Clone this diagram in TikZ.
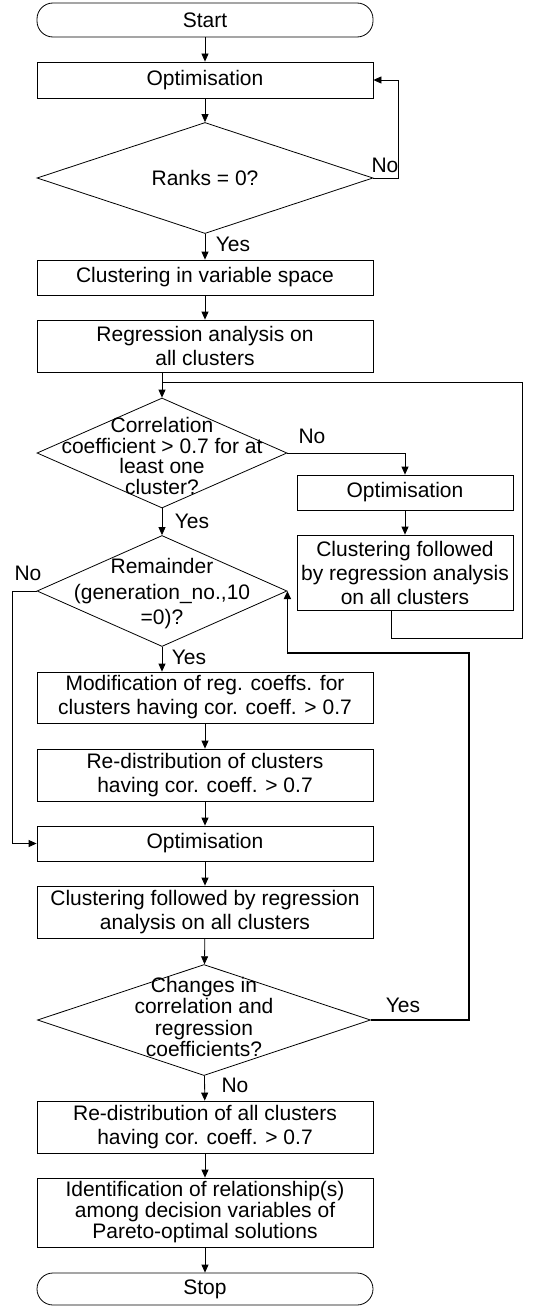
\documentclass[tikz,border=0pt]{standalone}
\usepackage{fontspec}
\setmainfont{Liberation Sans}
\usetikzlibrary{shapes.geometric,arrows.meta,calc}
\tikzset{
  proc/.style={draw, line width=0.8pt, minimum width=336pt, inner sep=0pt, align=center, font=\fontsize{21}{24}\selectfont},
  term/.style={proc, rounded corners=16pt},
  decide/.style={draw, diamond, line width=0.8pt, inner sep=0pt},
  dtext/.style={align=center, inner sep=0pt, font=\fontsize{21}{20.5}\selectfont},
  lbl/.style={inner sep=0pt, font=\fontsize{21}{24}\selectfont},
  flow/.style={line width=0.8pt, -{Triangle[length=8pt,width=7pt]}},
  plain/.style={line width=0.8pt},
}
\begin{document}
\begin{tikzpicture}[x=1pt,y=-1pt]
	\useasboundingbox (0,0) rectangle (558,1306);
	% main column
	\node [term, minimum height=34pt] (start) at (205,20) {Start};
	\node [proc, minimum height=36pt] (opt1) at (205,80) {Optimisation};
	\node [decide, minimum width=336pt, minimum height=111pt] (rank) at (205,178) {};
	\node [dtext] (rankT) at (rank) {Ranks = 0?};
	\node [proc, minimum height=35pt] (clusvar) at (205,277.5) {Clustering in variable space};
	\node [proc, minimum height=52pt] (regr) at (205,346) {Regression analysis on\\all clusters};
	\node [decide, minimum width=250pt, minimum height=110pt] (corr) at (162,453) {};
	\node [dtext] (corrT) at (162,456) {Correlation\\coefficient > 0.7 for at\\least one\\cluster?};
	\node [decide, minimum width=250pt, minimum height=111pt] (rem) at (162,591) {};
	\node [dtext, font=\fontsize{21}{25.5}\selectfont] (remT) at (162,594) {Remainder\\(generation\_no.,10\\=0)?};
	\node [proc, minimum height=51pt] (modif) at (205,697.5) {Modification of reg. coeffs. for\\clusters having cor. coeff. > 0.7};
	\node [proc, minimum height=52pt] (redist) at (205,775) {Re-distribution of clusters\\having cor. coeff. > 0.7};
	\node [proc, minimum height=35pt] (opt3) at (205,843.5) {Optimisation};
	\node [proc, minimum height=52pt] (clus3) at (205,912) {Clustering followed by regression\\analysis on all clusters};
	\node [decide, minimum width=333pt, minimum height=111pt] (chg) at (204,1020) {};
	\node [dtext, font=\fontsize{21}{21.5}\selectfont] (chgT) at (204,1017) {Changes in\\correlation and\\regression\\coefficients?};
	\node [proc, minimum height=52pt] (redist2) at (205,1127) {Re-distribution of all clusters\\having cor. coeff. > 0.7};
	\node [proc, minimum height=69pt, font=\fontsize{21}{21}\selectfont] (ident) at (205,1212.5) {Identification of relationship(s)\\among decision variables of\\Pareto-optimal solutions};
	\node [term, minimum height=32pt] (stop) at (205,1289) {Stop};
	% right column
	\node [proc, minimum width=216pt, minimum height=35pt] (opt2) at (405,492.5) {Optimisation};
	\node [proc, minimum width=216pt, minimum height=75pt] (clus2) at (405,572.5) {Clustering followed\\by regression analysis\\on all clusters};
	% labels
	\node [lbl] (noA) at (385,165) {No};
	\node [lbl] (yesA) at (233,244) {Yes};
	\node [lbl] (noB) at (312,436) {No};
	\node [lbl] (yesB) at (192,521) {Yes};
	\node [lbl] (noC) at (28,573) {No};
	\node [lbl] (yesC) at (189,657) {Yes};
	\node [lbl] (yesD) at (403,1005) {Yes};
	\node [lbl] (noD) at (235,1085) {No};
	% connectors
	\coordinate (join) at (162,382);
	\coordinate (loopTR) at (522,382);
	\coordinate (back) at (469,653);
	\draw [flow] (start) -- (opt1);
	\draw [flow] (opt1) -- (rank);
	\draw [flow] (rank.east) -- ++(25,0) |- (opt1.east);
	\draw [flow] (rank) -- (clusvar);
	\draw [flow] (clusvar) -- (regr);
	\draw [flow] (regr.south -| corr.north) -- (corr.north);
	\draw [flow] (corr.east) -| (opt2.north);
	\draw [flow] (opt2) -- (clus2);
	\draw [plain] ($(clus2.south)+(-14,0)$) -- ++(0,28) -| (loopTR) -- (join);
	\draw [flow] (corr) -- (rem);
	\draw [flow] (rem.south) -- (rem.south |- modif.north);
	\draw [flow] (rem.west) -- ++(-24,0) |- (opt3.west);
	\draw [flow] (modif) -- (redist);
	\draw [flow] (redist) -- (opt3);
	\draw [flow] (opt3) -- (clus3);
	\draw [flow] (clus3) -- (chg);
	\draw [flow, line width=1.6pt] (chg.east) -| (back) -| (rem.east);
	\draw [flow] (chg) -- (redist2);
	\draw [flow] (redist2) -- (ident);
	\draw [flow] (ident) -- (stop);
\end{tikzpicture}
\end{document}
